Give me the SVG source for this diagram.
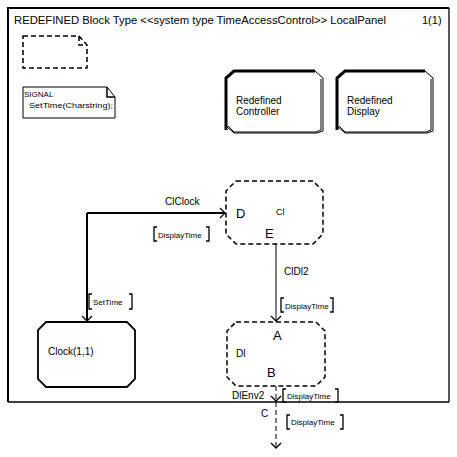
<svg xmlns="http://www.w3.org/2000/svg" width="457" height="457" viewBox="0 0 457 457">
<style>
text{font-family:"Liberation Sans",Arial,sans-serif;fill:#000}
.t{font-size:11px}
.s{font-size:8px}
.m{font-size:10px}
.big{font-size:13px}
.ln{fill:none;stroke:#000}
.dash{stroke-dasharray:5,3}
</style>
<defs>
<marker id="arr" markerWidth="12" markerHeight="12" refX="6" refY="6" orient="auto" markerUnits="userSpaceOnUse">
<path d="M1,1 L6,6 L1,11" fill="none" stroke="#000" stroke-width="1.3"/>
</marker>
</defs>
<rect width="457" height="457" fill="#fff"/>
<g id="frame">
<path d="M449,8 V402" class="ln" stroke-width="1.3"/>
<path d="M8,402 V8 H449" class="ln" stroke-width="2"/>
<path d="M8,402 H449" class="ln" stroke-width="1.5"/>
<text x="14" y="24" class="t" textLength="372" lengthAdjust="spacingAndGlyphs">REDEFINED Block Type &lt;&lt;system type TimeAccessControl&gt;&gt; LocalPanel</text>
<text x="422" y="24" class="t">1(1)</text>
</g>
<g id="note1">
<path d="M23,36 H79 L87,45 V68 H23 Z M79,36 V45 H87" class="ln dash" stroke-width="1.5" stroke-dasharray="4,2"/>
</g>
<g id="signal">
<path d="M23,87 H107 L115,97 V118 H23 Z" class="ln" stroke-width="1"/>
<path d="M107,87 V97 H115" class="ln" stroke-width="1.5"/>
<text x="24" y="97" class="s">SIGNAL</text>
<text x="29" y="108" class="s" textLength="84" lengthAdjust="spacingAndGlyphs">SetTime(Charstring);</text>
</g>
<g id="controller">
<path d="M226,130 V78 L234,71 H315" class="ln" stroke-width="3"/>
<path d="M315,71 L323,78 V131 L317,133 H234 L226,126" class="ln" stroke-width="1"/>
<path d="M321,79 V130 L316,132 H234 L228,126" class="ln" stroke-width="1"/>
<text x="236" y="104" class="m">Redefined</text>
<text x="236" y="115" class="m">Controller</text>
</g>
<g id="display">
<path d="M337,130 V78 L345,71 H425" class="ln" stroke-width="3"/>
<path d="M425,71 L433,78 V131 L427,133 H345 L337,126" class="ln" stroke-width="1"/>
<path d="M431,79 V130 L426,132 H345 L339,126" class="ln" stroke-width="1"/>
<text x="347" y="104" class="m">Redefined</text>
<text x="347" y="115" class="m">Display</text>
</g>
<g id="Cl">
<path d="M236,181 H313 L323,191 V234 L313,244 H236 L226,234 V191 Z" class="ln dash" stroke-width="1.5" stroke-dasharray="4,2.5"/>
<text x="236" y="218" class="big">D</text>
<text x="276" y="215" style="font-size:9px">Cl</text>
<text x="265" y="238" class="big">E</text>
</g>
<g id="Clock">
<path d="M46,322 H127 L135,330 V379 L127,387 H46 L38,379 V330 Z" class="ln" stroke-width="1.8"/>
<text x="48" y="355" class="m">Clock(1,1)</text>
</g>
<g id="Dl">
<path d="M236,322 H316 L325,331 V377 L316,386 H236 L227,377 V331 Z" class="ln dash" stroke-width="1.5" stroke-dasharray="4,2.5"/>
<text x="273" y="340" class="big">A</text>
<text x="236" y="357" class="m">Dl</text>
<text x="267" y="377" class="big">B</text>
</g>
<g id="connectors">
<path d="M87,213 H225" class="ln" stroke-width="2" marker-end="url(#arr)"/>
<path d="M87,213 V321" class="ln" stroke-width="2" marker-end="url(#arr)"/>
<path d="M276,244 V321" class="ln" stroke-width="1" marker-end="url(#arr)"/>
<path d="M276,386 V401" class="ln dash" stroke-width="1" stroke-dasharray="4,2" marker-end="url(#arr)"/>
<path d="M276,402 V448" class="ln dash" stroke-width="1" stroke-dasharray="4,2" marker-end="url(#arr)"/>
</g>
<g id="labels">
<text x="165" y="205" class="m">ClClock</text>
<path d="M157,227 H154 V241 H157 M206,227 H209 V241 H206" class="ln" stroke-width="1.3"/>
<text x="158" y="238" class="s">DisplayTime</text>
<text x="284" y="275" class="m">ClDl2</text>
<path d="M284,298 H281 V312 H284 M330,298 H333 V312 H330" class="ln" stroke-width="1.3"/>
<text x="285" y="309" class="s">DisplayTime</text>
<path d="M92,294 H89 V309 H92 M129,294 H132 V309 H129" class="ln" stroke-width="1.3"/>
<text x="93" y="305" class="s">SetTime</text>
<text x="232" y="399" class="m">DlEnv2</text>
<path d="M286,389 H283 V402 H286 M335,389 H338 V402 H335" class="ln" stroke-width="1.3"/>
<text x="287" y="399" class="s">DisplayTime</text>
<text x="261" y="417" class="m">C</text>
<path d="M290,415 H287 V429 H290 M340,415 H343 V429 H340" class="ln" stroke-width="1.3"/>
<text x="291" y="425" class="s">DisplayTime</text>
</g>
</svg>
